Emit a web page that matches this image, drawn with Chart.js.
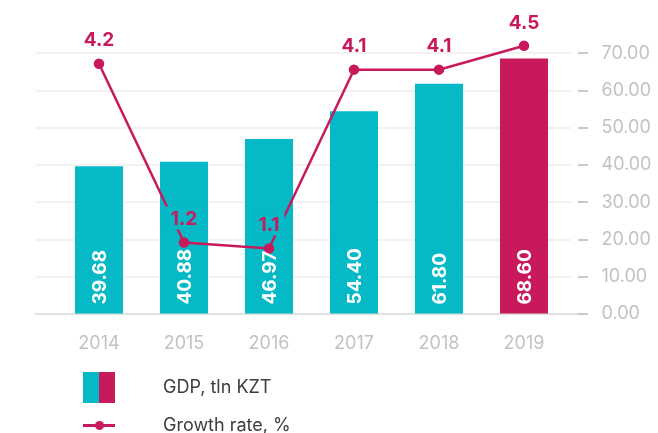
<!DOCTYPE html>
<html>
<head>
<meta charset="utf-8">
<script src="https://cdn.jsdelivr.net/npm/chart.js@4"></script>
<style>
  body { margin: 0; background: #fff; font-family: Inter, sans-serif; }
  #wrap { position: relative; width: 658px; height: 433px; }
  .lg { position: absolute; left: 163px; font-size: 18px; color: #3d3d3d; line-height: 22px; }
</style>
</head>
<body>
<div id="wrap">
  <canvas id="chart" width="658" height="433"></canvas>
  <div style="position:absolute;left:83px;top:372px;width:16px;height:31px;background:#05b9c6"></div>
  <div style="position:absolute;left:99px;top:372px;width:16px;height:31px;background:#c8195c"></div>
  <div class="lg" style="top:376px">GDP, tln KZT</div>
  <div style="position:absolute;left:83px;top:424px;width:32px;height:2.5px;background:#c8195c"></div>
  <div style="position:absolute;left:94.5px;top:420.5px;width:9px;height:9px;border-radius:50%;background:#c8195c"></div>
  <div class="lg" style="top:414px">Growth rate, %</div>
</div>
<script>
const years = ["2014", "2015", "2016", "2017", "2018", "2019"];
const gdp = [39.68, 40.88, 46.97, 54.40, 61.80, 68.60];
const growth = [4.2, 1.2, 1.1, 4.1, 4.1, 4.5];
const barColors = ["#05b9c6", "#05b9c6", "#05b9c6", "#05b9c6", "#05b9c6", "#c8195c"];

const magenta = "#c8195c";

// grid lines + little dashes on the right, drawn wider than the chart area
const gridPlugin = {
  id: "grid",
  beforeDatasetsDraw(chart) {
    const ctx = chart.ctx;
    const ys = chart.scales.y;
    ctx.save();
    ys.ticks.forEach(t => {
      if (t.value > 70) return;
      const py = Math.round(ys.getPixelForValue(t.value));
      if (t.value === 0) {
        ctx.strokeStyle = "#d6d6d6";
        ctx.lineWidth = 1.5;
        ctx.beginPath(); ctx.moveTo(35, py); ctx.lineTo(578, py); ctx.stroke();
      } else {
        ctx.strokeStyle = "#f2f2f2";
        ctx.lineWidth = 2;
        ctx.beginPath(); ctx.moveTo(35, py); ctx.lineTo(571, py); ctx.stroke();
      }
      ctx.strokeStyle = "#c9c9c9";
      ctx.lineWidth = 2;
      ctx.beginPath(); ctx.moveTo(578, py); ctx.lineTo(588, py); ctx.stroke();
    });
    ctx.restore();
  }
};

const labelPlugin = {
  id: "labels",
  afterDatasetsDraw(chart) {
    const ctx = chart.ctx;
    const bars = chart.getDatasetMeta(0).data;
    const pts = chart.getDatasetMeta(1).data;
    ctx.save();
    ctx.font = "bold 19px Inter, sans-serif";
    ctx.fillStyle = "#fff";
    bars.forEach((b, i) => {
      ctx.save();
      ctx.translate(b.x, b.base - 9);
      ctx.rotate(-Math.PI / 2);
      ctx.textAlign = "left";
      ctx.textBaseline = "middle";
      ctx.fillText(gdp[i].toFixed(2), 0, 1);
      ctx.restore();
    });
    ctx.textAlign = "center";
    ctx.textBaseline = "middle";
    pts.forEach((p, i) => {
      const txt = growth[i].toFixed(1);
      const cy = p.y - 23;
      const w = ctx.measureText(txt).width;
      const b = bars[i];
      if (cy + 12 > b.y) {
        ctx.fillStyle = barColors[i];
        ctx.fillRect(p.x - w / 2 - 5, cy - 13, w + 10, 23);
      }
      ctx.fillStyle = magenta;
      ctx.fillText(txt, p.x, cy);
    });
    ctx.restore();
  }
};

new Chart(document.getElementById("chart"), {
  type: "bar",
  data: {
    labels: years,
    datasets: [
      {
        label: "GDP, tln KZT",
        data: gdp,
        backgroundColor: barColors,
        barPercentage: 0.565,
        categoryPercentage: 1,
        yAxisID: "y",
        order: 1
      },
      {
        type: "line",
        label: "Growth rate, %",
        data: growth,
        borderColor: magenta,
        backgroundColor: magenta,
        borderWidth: 2.5,
        pointRadius: 4,
        pointHoverRadius: 4,
        tension: 0,
        yAxisID: "y2",
        order: 0
      }
    ]
  },
  options: {
    responsive: false,
    animation: false,
    layout: { padding: { left: 56.5, top: 16, right: 0, bottom: 0 } },
    plugins: { legend: { display: false }, tooltip: { enabled: false } },
    scales: {
      x: {
        grid: { display: false },
        border: { display: false },
        ticks: { color: "#c2c2c2", font: { family: "Inter", size: 18 }, padding: 11 },
        afterFit(s) { s.height = 119; }
      },
      y: {
        position: "right",
        min: 0,
        max: 80,
        grid: { drawOnChartArea: false, drawTicks: false },
        border: { display: false },
        ticks: {
          stepSize: 10,
          color: "#c2c2c2",
          font: { family: "Inter", size: 18 },
          padding: 35,
          callback: v => (v > 70 ? "" : v.toFixed(2))
        },
        afterFit(s) { s.width = 91.5; s.paddingTop = 0; s.paddingBottom = 0; }
      },
      y2: {
        display: false,
        min: 0,
        max: 5
      }
    }
  },
  plugins: [gridPlugin, labelPlugin]
});
</script>
</body>
</html>
